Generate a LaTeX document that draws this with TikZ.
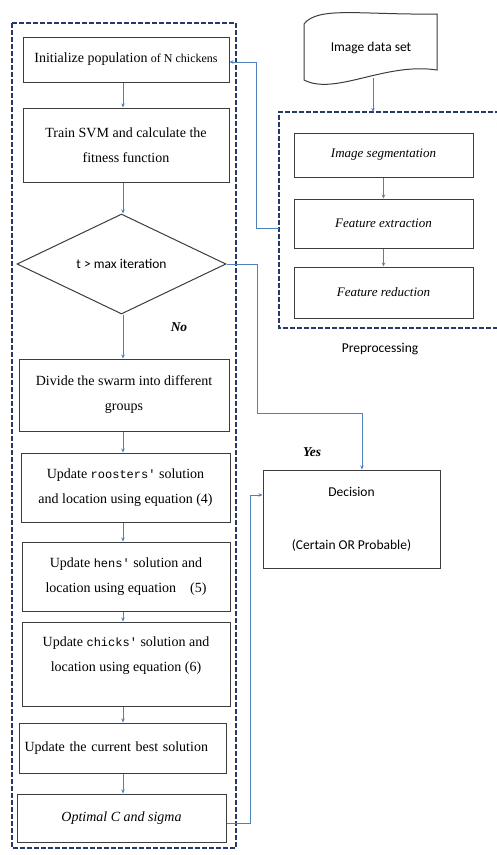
\documentclass[tikz,border=0pt]{standalone}
\usepackage{fontspec}
\setmainfont{Liberation Serif}
\setsansfont{Carlito}
\setmonofont{Liberation Mono}
\usetikzlibrary{arrows.meta,shapes.geometric,calc}
\definecolor{flowBlue}{RGB}{79,129,189}
\definecolor{groupNavy}{RGB}{36,58,104}
\definecolor{boxGray}{RGB}{60,60,60}

\begin{document}
\begin{tikzpicture}[x=1pt, y=-1pt,
  % ── process boxes ──
  stepbox/.style={draw=boxGray, fill=white, rectangle, line width=1pt,
                  inner sep=2pt, align=center,
                  font=\fontsize{14}{25}\selectfont},
  prepbox/.style={stepbox, font=\fontsize{13}{15}\selectfont\itshape,
                  minimum width=179pt},
  % ── decision diamond ──
  testnode/.style={diamond, draw=boxGray, fill=white, line width=1pt,
                   inner sep=0pt, font=\sffamily\fontsize{13.5}{15}\selectfont},
  % ── connectors ──
  link/.style={draw=flowBlue, line width=0.9pt,
               -{Stealth[length=4pt,width=3.5pt]}},
  % ── dashed group frames ──
  groupline/.style={draw=groupNavy, line width=2.8pt,
                    dash pattern=on 5pt off 2pt},
  % ── free labels ──
  branch/.style={font=\fontsize{13.5}{15}\selectfont\bfseries\itshape},
  caption/.style={font=\sffamily\fontsize{13.5}{15}\selectfont},
]
\useasboundingbox (0,0) rectangle (497,855);

\def\ax{123}   % x of the arrows in the main column

%% ─── 1. Main column ─────────────────────────────────────────────
\node[stepbox, minimum width=206pt, minimum height=45pt] (init) at (126,59.5)
  {Initialize population {\fontsize{12}{13}\selectfont of N chickens}};
\node[stepbox, minimum width=206pt, minimum height=74pt] (train) at (126,145)
  {Train SVM and calculate the\\fitness function};
\node[testnode, minimum width=209pt, minimum height=100pt] (test) at (121.5,264)
  {t > max iteration};
\node[stepbox, minimum width=210pt, minimum height=72pt] (divide) at (124,395)
  {Divide the swarm into different\\groups};
\node[stepbox, minimum width=209pt, minimum height=69pt] (roost) at (125.5,487.5)
  {Update {\ttfamily\fontsize{12}{13}\selectfont roosters'} solution\\
   and location using equation (4)};
\node[stepbox, minimum width=208pt, minimum height=69pt] (hens) at (126,576.5)
  {Update {\ttfamily\fontsize{12}{13}\selectfont hens'} solution and\\
   location using equation\quad (5)};
\node[stepbox, minimum width=208pt, minimum height=84pt] (chicks) at (126,664)
  {Update {\ttfamily\fontsize{12}{13}\selectfont chicks'} solution and\\
   location using equation\ (6)\\[-6pt]};
\node[stepbox, minimum width=207pt, minimum height=50pt, text width=196pt,
      align=left] (best) at (122.5,748)
  {Update the current best solution};
\node[stepbox, minimum width=209pt, minimum height=48pt] (optimal) at (121.5,818)
  {\itshape Optimal C and sigma};

\coordinate (acol) at (\ax,0);
\draw[link] (init.south -| acol)   -- (train.north -| acol);
\draw[link] (train.south -| acol)  -- (test.north -| acol);
\draw[link] (test.south -| acol)   -- (divide.north -| acol);
\draw[link] (divide.south -| acol) -- (roost.north -| acol);
\draw[link] (roost.south -| acol)  -- (hens.north -| acol);
\draw[link] (hens.south -| acol)   -- (chicks.north -| acol);
\draw[link] (chicks.south -| acol) -- (best.north -| acol);
\draw[link] (best.south -| acol)   -- (optimal.north -| acol);

\node[branch] (no) at (179,327) {No};

% outer frame of the optimisation loop
\draw[groupline] (12,23) rectangle (236,848);

%% ─── 2. Preprocessing branch ───────────────────────────────────
% punched-tape shape for the data set
\draw[draw=boxGray, fill=white, line width=1pt]
  (304,24) .. controls (318,6) and (360,15) .. (437,14)
  -- (437,70) .. controls (385,62) and (335,96) .. (304,80) -- cycle;
\node[caption] (data) at (371,48) {Image data set};

\node[prepbox, minimum height=44pt] (seg)     at (383.5,155)   {Image segmentation};
\node[prepbox, minimum height=49pt] (extract) at (383.5,223.5) {Feature extraction};
\node[prepbox, minimum height=51pt] (reduce)  at (383.5,292.5) {Feature reduction};

\draw[link] (seg.south)     -- (extract.north);
\draw[link] (extract.south) -- (reduce.north);

% frame open to the right edge
\draw[groupline] (500,112) -| (279,328) -- (500,328);
\coordinate (prepTop)  at (373,112);
\coordinate (prepLeft) at (279,228);
\draw[link] (373,78) -- (prepTop);
\node[caption] (prep) at (380,349) {Preprocessing};

%% ─── 3. Decision ───────────────────────────────────────────────
\node[stepbox, minimum width=177pt, minimum height=98pt,
      font=\sffamily\fontsize{13.5}{15}\selectfont] (decision) at (351.5,519)
  {Decision\\[38pt](Certain OR Probable)};
\node[branch] (yes) at (312,452) {Yes};

%% ─── 4. Connectors between the groups ──────────────────────────
\coordinate (featBend) at (256,62);
\draw[link] (prepLeft) -| (featBend) -- (init.east |- featBend);

\coordinate (yesBend) at (257,413);
\coordinate (yesDrop) at (362,413);
\draw[link] (test.east) -| (yesBend) -- (yesDrop) -- (yesDrop |- decision.north);

\coordinate (optBend) at (250,823);
\coordinate (decIn)   at (250,495);
\draw[link] (optimal.east |- optBend) -- (optBend) -- (decIn)
  -- (decIn -| decision.west);
\end{tikzpicture}
\end{document}
